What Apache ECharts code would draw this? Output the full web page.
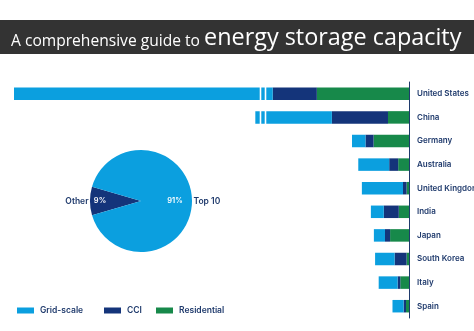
<!DOCTYPE html>
<html>
<head>
<meta charset="utf-8">
<script src="https://cdn.jsdelivr.net/npm/echarts@6/dist/echarts.min.js"></script>
<style>
  html, body { margin: 0; padding: 0; background: #ffffff; }
  #chart { width: 474px; height: 331px; }
</style>
</head>
<body>
<div id="chart"></div>
<script>
// Countries, top to bottom
const countries = ['United States', 'China', 'Germany', 'Australia', 'United Kingdom',
                   'India', 'Japan', 'South Korea', 'Italy', 'Spain'];

// Installed storage by segment (GW)
const gridScale   = [156.8, 96.1, 4.5, 10.3, 13.7, 4.3, 3.7, 6.5, 6.3, 3.7];
const cci         = [14.7, 18.7, 2.7, 3.0, 1.2, 5.0, 1.7, 4.0, 0.9, 0.8];
const residential = [30.7, 7.0, 11.8, 3.6, 0.8, 3.4, 6.3, 0.8, 2.9, 1.0];

// Share of global capacity
const shareNames  = ['Other', 'Top 10'];
const shareValues = [9, 91];

// Axis break for the two largest markets
const breakStart = 48;
const breakEnd = 120;

const COLORS = { 'Grid-scale': '#0b9fdf', 'CCI': '#14347a', 'Residential': '#17894a' };
const NAVY = '#1f3a6c';
const FONT = 'Inter';

const chart = echarts.init(document.getElementById('chart'), null, { renderer: 'canvas' });

function barSeries(name, data) {
  return {
    name: name,
    type: 'bar',
    stack: 'total',
    data: data,
    barWidth: 12.5,
    itemStyle: { color: COLORS[name] },
    emphasis: { disabled: true }
  };
}

function legendAt(name, left) {
  return {
    data: [name],
    left: left,
    top: 306,
    icon: 'rect',
    itemWidth: 17,
    itemHeight: 6,
    itemGap: 0,
    padding: 0,
    textStyle: { color: NAVY, fontSize: 8.5, fontWeight: 600, fontFamily: FONT, padding: [0, 0, 0, 1] }
  };
}

const option = {
  backgroundColor: '#ffffff',
  animation: false,
  graphic: [{
    type: 'rect',
    left: 0, top: 20,
    shape: { width: 474, height: 34 },
    style: { fill: '#333333' },
    z: 0
  }],
  title: {
    text: '{a|A comprehensive guide to }{b|energy storage capacity}',
    left: 11,
    top: 20,
    padding: 0,
    textStyle: {
      fontWeight: 'normal',
      rich: {
        a: { color: '#ffffff', fontSize: 15.6, fontWeight: 'normal', fontFamily: 'Open Sans', lineHeight: 30, verticalAlign: 'bottom' },
        b: { color: '#ffffff', fontSize: 23.4, fontWeight: 'normal', fontFamily: 'Open Sans', lineHeight: 30, verticalAlign: 'bottom' }
      }
    }
  },
  legend: [
    legendAt('Grid-scale', 17),
    legendAt('CCI', 104),
    legendAt('Residential', 156)
  ],
  grid: { left: 14, right: 65, top: 82, bottom: 13, containLabel: false, outerBoundsMode: 'none' },
  xAxis: {
    type: 'value',
    inverse: true,
    min: 0,
    max: 'dataMax',
    axisLine: { show: false },
    axisTick: { show: false },
    axisLabel: { show: false },
    splitLine: { show: false },
    breaks: [{ start: breakStart, end: breakEnd, gap: 1.4 }],
    breakArea: {
      show: true,
      expandOnClick: false,
      itemStyle: { color: 'rgba(0,0,0,0)', borderColor: '#ffffff', borderWidth: 1.6, borderType: 'solid', opacity: 1 },
      zigzagAmplitude: 0,
      zigzagZ: 100
    }
  },
  yAxis: {
    type: 'category',
    data: countries,
    inverse: true,
    position: 'right',
    axisLine: { show: true, lineStyle: { color: NAVY, width: 1 } },
    axisTick: { show: false },
    axisLabel: { color: NAVY, fontSize: 8, fontWeight: 600, fontFamily: FONT, margin: 8, align: 'left' }
  },
  series: [
    barSeries('Residential', residential),
    barSeries('CCI', cci),
    barSeries('Grid-scale', gridScale),
    {
      type: 'pie',
      center: [141, 201],
      radius: 51,
      startAngle: 196.2,
      clockwise: true,
      silent: true,
      data: shareNames.map((n, i) => ({ name: n, value: shareValues[i],
        itemStyle: { color: i === 0 ? '#14347a' : '#0b9fdf' } })),
      label: {
        show: true,
        position: 'outside',
        formatter: '{b}',
        color: NAVY, fontSize: 8.5, fontWeight: 600, fontFamily: FONT,
        distanceToLabelLine: 1.5
      },
      labelLine: { show: false, length: 0, length2: 0 },
      emphasis: { disabled: true }
    },
    {
      type: 'pie',
      center: [141, 201],
      radius: 51,
      startAngle: 196.2,
      clockwise: true,
      silent: true,
      z: 3,
      data: shareNames.map((n, i) => ({ name: n, value: shareValues[i] })),
      itemStyle: { color: 'rgba(0,0,0,0)' },
      label: {
        show: true,
        position: 'inside',
        formatter: '{d}%',
        color: '#ffffff', fontSize: 7.5, fontWeight: 600, fontFamily: FONT
      },
      labelLayout: function (p) { return { dx: p.dataIndex === 0 ? -12.5 : 5.5 }; },
      emphasis: { disabled: true }
    }
  ]
};

chart.setOption(option);
</script>
</body>
</html>
